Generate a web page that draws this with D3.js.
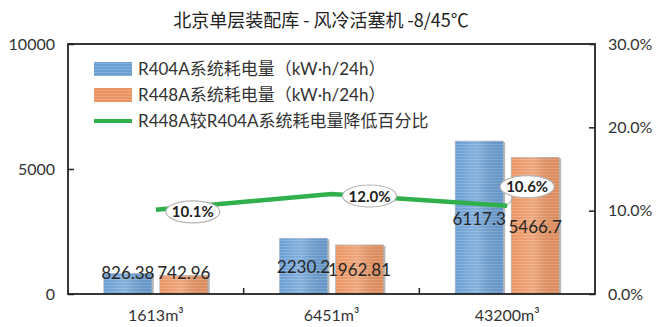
<!DOCTYPE html>
<html>
<head>
<meta charset="utf-8">
<script src="https://cdn.jsdelivr.net/npm/d3@7"></script>
<style>
  html, body { margin: 0; padding: 0; background: #fff; }
  svg { display: block; }
</style>
</head>
<body>
<svg id="chart" width="656" height="327"></svg>
<script>
// ---- data ----
const title = "北京单层装配库 - 风冷活塞机 -8/45℃";
const categories = ["1613m³", "6451m³", "43200m³"];
const seriesNames = ["R404A系统耗电量（kW·h/24h）", "R448A系统耗电量（kW·h/24h）"];
const r404a = [826.38, 2230.2, 6117.3];
const r448a = [742.96, 1962.81, 5466.7];
const reductionName = "R448A较R404A系统耗电量降低百分比";
const reduction = [0.101, 0.120, 0.106];
const leftTicks = [0, 5000, 10000];
const rightTicks = [0, 0.1, 0.2, 0.3];

// ---- layout ----
const W = 656, H = 327;
const m = { left: 68, right: 61, top: 44, bottom: 33 };
const x0 = m.left, x1 = W - m.right, yTop = m.top, yBot = H - m.bottom;
const svg = d3.select("#chart");
const cjk = "'Noto Sans CJK SC', sans-serif";
const latin = "Lato, 'Noto Sans CJK SC', sans-serif";

const x = d3.scaleBand().domain(categories).range([x0, x1]);
const xs = d3.scaleBand().domain([0, 1]).range([-52, 52]).paddingInner(0.143);
const y = d3.scaleLinear().domain([0, 10000]).range([yBot, yTop]);
const y2 = d3.scaleLinear().domain([0, 0.3]).range([yBot, yTop]);

const colors = ["#6b9fd4", "#ea9462"];
const stripes = ["#94bbe3", "#f3b48d"];
const defs = svg.append("defs");
colors.forEach((c, i) => {
  const p = defs.append("pattern").attr("id", "pat" + i)
    .attr("patternUnits", "userSpaceOnUse").attr("width", 6).attr("height", 3);
  p.append("rect").attr("width", 6).attr("height", 3).attr("fill", c);
  p.append("rect").attr("y", 0).attr("width", 6).attr("height", 1).attr("fill", stripes[i]).attr("opacity", 0.6);
  const g = defs.append("linearGradient").attr("id", "shade" + i);
  g.append("stop").attr("offset", "0%").attr("stop-color", "#fff").attr("stop-opacity", 0.0);
  g.append("stop").attr("offset", "45%").attr("stop-color", "#fff").attr("stop-opacity", 0.18);
  g.append("stop").attr("offset", "100%").attr("stop-color", "#000").attr("stop-opacity", 0.05);
});

// title
svg.append("text").attr("x", 321).attr("y", 27).attr("text-anchor", "middle")
  .style("font-family", cjk).attr("font-size", 18).attr("fill", "#222").text(title);

// bars
const seriesVals = [r404a, r448a];
seriesVals.forEach((vals, si) => {
  const g = svg.append("g");
  const cx = d => x(categories[d]) + x.bandwidth() / 2 + xs(si);
  const idx = vals.map((v, i) => i);
  g.selectAll("rect.sh").data(idx).join("rect")
    .attr("x", d => cx(d) + 2).attr("y", d => y(vals[d]) + 1)
    .attr("width", xs.bandwidth()).attr("height", d => yBot - y(vals[d]) - 1)
    .attr("fill", "#9a9a9a").attr("opacity", 0.7);
  g.selectAll("rect.b").data(idx).join("rect")
    .attr("x", d => cx(d)).attr("y", d => y(vals[d]))
    .attr("width", xs.bandwidth()).attr("height", d => yBot - y(vals[d]))
    .attr("fill", `url(#pat${si})`).attr("stroke", "#a9b4c0").attr("stroke-width", 0.6);
  g.selectAll("rect.s").data(idx).join("rect")
    .attr("x", d => cx(d)).attr("y", d => y(vals[d]))
    .attr("width", xs.bandwidth()).attr("height", d => yBot - y(vals[d]))
    .attr("fill", `url(#shade${si})`);
});

// axes frame
svg.append("rect").attr("x", x0).attr("y", yTop).attr("width", x1 - x0).attr("height", yBot - yTop)
  .attr("fill", "none").attr("stroke", "#222").attr("stroke-width", 1.8);

function styleTicks(ax) {
  ax.select(".domain").remove();
  ax.selectAll("line").attr("stroke", "#222").attr("stroke-width", 1.5);
  ax.selectAll("text").style("font-family", latin).style("font-size", "16px").attr("fill", "#333");
}

// left axis
const axL = svg.append("g").attr("transform", `translate(${x0},0)`)
  .call(d3.axisLeft(y).tickValues(leftTicks).tickSize(-6).tickPadding(13).tickFormat(d3.format("d")));
styleTicks(axL);

// right axis
const axR = svg.append("g").attr("transform", `translate(${x1},0)`)
  .call(d3.axisRight(y2).tickValues(rightTicks).tickSize(-6).tickPadding(13).tickFormat(d3.format(".1%")));
styleTicks(axR);

// bottom axis
const axB = svg.append("g").attr("transform", `translate(0,${yBot})`)
  .call(d3.axisBottom(x).tickSize(0).tickPadding(16));
styleTicks(axB);
svg.append("g").selectAll("line").data(categories.slice(1)).join("line")
  .attr("x1", d => x(d)).attr("x2", d => x(d)).attr("y1", yBot).attr("y2", yBot - 6)
  .attr("stroke", "#222").attr("stroke-width", 1.5);

// bar value labels
seriesVals.forEach((vals, si) => {
  svg.append("g").selectAll("text").data(vals).join("text")
    .attr("x", (d, i) => x(categories[i]) + x.bandwidth() / 2 + xs(si) + xs.bandwidth() / 2)
    .attr("y", d => Math.min((y(d) + yBot) / 2 + 7, yBot - 15))
    .attr("text-anchor", "middle").style("font-family", latin).style("font-size", "17px").attr("fill", "#262626")
    .text(d => String(d));
});

// line
const lineGen = d3.line().x((d, i) => x(categories[i]) + x.bandwidth() / 2).y(d => y2(d));
svg.append("path").datum(reduction).attr("d", lineGen)
  .attr("fill", "none").attr("stroke", "#2fb04c").attr("stroke-width", 4.5).attr("stroke-linejoin", "round");

// line labels (callouts)
const labelOffsets = [[37, 2], [38, 2], [20, -19]];
reduction.forEach((v, i) => {
  const px = x(categories[i]) + x.bandwidth() / 2, py = y2(v);
  const cx = px + labelOffsets[i][0], cy = py + labelOffsets[i][1];
  if (Math.abs(labelOffsets[i][1]) > 8) {
    svg.append("line").attr("x1", px).attr("y1", py).attr("x2", cx - 12).attr("y2", cy + 9)
      .attr("stroke", "#a6a6a6").attr("stroke-width", 1);
  }
  svg.append("ellipse").attr("cx", cx).attr("cy", cy).attr("rx", 27).attr("ry", 11)
    .attr("fill", "#fff").attr("stroke", "#b5b5b5").attr("stroke-width", 1.2);
  svg.append("text").attr("x", cx).attr("y", cy + 5.5).attr("text-anchor", "middle")
    .style("font-family", latin).style("font-size", "15px").style("font-weight", "bold").attr("fill", "#222")
    .text(d3.format(".1%")(v));
});

// legend
const lg = svg.append("g");
const lgY = [69, 95, 121];
colors.forEach((c, i) => {
  lg.append("rect").attr("x", 94).attr("y", lgY[i] - 7).attr("width", 38).attr("height", 14)
    .attr("fill", `url(#pat${i})`);
  lg.append("text").attr("x", 138).attr("y", lgY[i] + 6).style("font-size", "17px").attr("fill", "#333")
    .style("font-family", latin).text(seriesNames[i]);
});
lg.append("line").attr("x1", 94).attr("x2", 132).attr("y1", lgY[2]).attr("y2", lgY[2])
  .attr("stroke", "#2fb04c").attr("stroke-width", 4);
lg.append("text").attr("x", 138).attr("y", lgY[2] + 6).style("font-size", "17px").attr("fill", "#333")
  .style("font-family", latin).text(reductionName);
</script>
</body>
</html>
